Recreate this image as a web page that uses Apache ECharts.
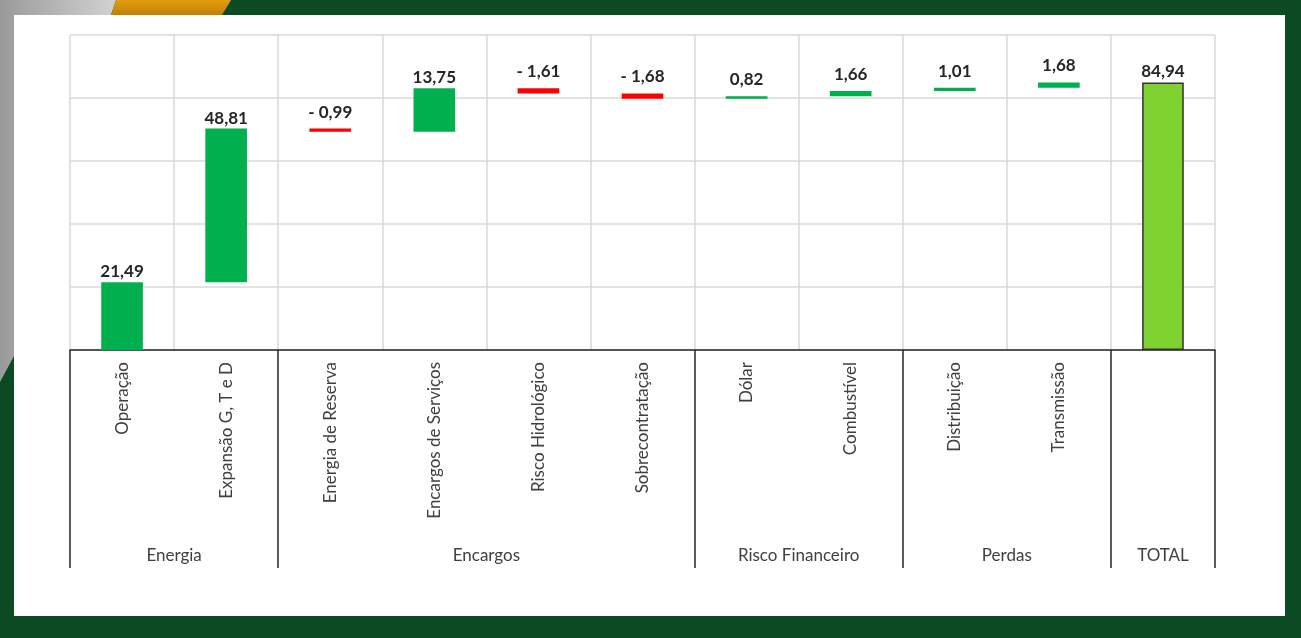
<!DOCTYPE html>
<html>
<head>
<meta charset="utf-8">
<script src="https://cdn.jsdelivr.net/npm/echarts@6/dist/echarts.min.js"></script>
<style>
html,body{margin:0;padding:0;width:1301px;height:638px;overflow:hidden;background:#0b4a22;}
#frame{position:absolute;left:0;top:0;}
#chart{position:absolute;left:0;top:0;width:1301px;height:638px;}
</style>
</head>
<body>
<svg id="frame" width="1301" height="638" xmlns="http://www.w3.org/2000/svg">
  <defs>
    <linearGradient id="og" x1="0" y1="0" x2="0" y2="1">
      <stop offset="0" stop-color="#e39e0c"/>
      <stop offset="1" stop-color="#bf7f08"/>
    </linearGradient>
    <linearGradient id="gg" x1="0" y1="0" x2="1" y2="0">
      <stop offset="0" stop-color="#9a9a9a"/>
      <stop offset="1" stop-color="#d2d2d2"/>
    </linearGradient>
  </defs>
  <rect x="0" y="0" width="1301" height="638" fill="#0b4a22"/>
  <polygon points="0,0 116,0 111,15 14,15 14,356 0,382" fill="url(#gg)"/>
  <polygon points="116,0 231,0 222,15 111,15" fill="url(#og)"/>
  <rect x="14" y="15" width="1271" height="601" fill="#ffffff"/>
</svg>
<div id="chart"></div>
<script>
const categories = ['Operação','Expansão G, T e D','Energia de Reserva','Encargos de Serviços','Risco Hidrológico','Sobrecontratação','Dólar','Combustível','Distribuição','Transmissão','TOTAL'];
const deltas = [21.49, 48.81, -0.99, 13.75, -1.61, -1.68, 0.82, 1.66, 1.01, 1.68];
const totalValue = 84.94;
const groups = ['Energia','Encargos','Risco Financeiro','Perdas','TOTAL'];
const groupStart = [0, 2, 6, 8, 10];
const groupEnd = [1, 5, 7, 9, 10];
const yMin = 0, yMax = 100, yStep = 20;

const COLOR_UP = '#00b04f', COLOR_DOWN = '#ff0000', COLOR_TOTAL = '#7ed12f';

function labelDist(h) { return h < 3 ? 8 : 2; }

const baseData = [], barData = [], labelValues = [];
let cum = 0;
deltas.forEach(function (d) {
  const h = Math.abs(d);
  baseData.push(d >= 0 ? cum : cum + d);
  barData.push({value: h, itemStyle: {color: d >= 0 ? COLOR_UP : COLOR_DOWN}, label: {distance: labelDist(h)}});
  labelValues.push(d);
  cum += d;
});
baseData.push(0);
barData.push({value: totalValue, itemStyle: {color: COLOR_TOTAL, borderColor: '#333333', borderWidth: 1.5}, label: {distance: labelDist(totalValue)}});
labelValues.push(totalValue);

function fmt(v) {
  return (v < 0 ? '- ' : '') + Math.abs(v).toFixed(2).replace('.', ',');
}

const chart = echarts.init(document.getElementById('chart'), null, {renderer: 'canvas'});
const FONT = 'Lato';
chart.setOption({
  animation: false,
  backgroundColor: 'transparent',
  grid: {left: 70, right: 86, top: 35, bottom: 288, containLabel: false},
  xAxis: {
    type: 'category',
    data: categories,
    boundaryGap: true,
    axisLine: {show: true, lineStyle: {color: '#262626', width: 1.5}},
    axisTick: {
      show: true,
      length: 218,
      interval: function (i) { return groupStart.indexOf(i) >= 0; },
      lineStyle: {color: '#262626', width: 1.5}
    },
    axisLabel: {interval: 0, rotate: 90, margin: 12, fontSize: 17, color: '#404040', fontFamily: FONT,
      formatter: function (v, i) { return i === categories.length - 1 ? '' : v; }},
    splitLine: {show: true, interval: 0, lineStyle: {color: '#d9d9d9', width: 1.5}}
  },
  yAxis: {
    type: 'value', min: yMin, max: yMax, interval: yStep,
    axisLabel: {show: false}, axisLine: {show: false}, axisTick: {show: false},
    splitLine: {show: true, lineStyle: {color: '#d9d9d9', width: 1.5}}
  },
  series: [
    {type: 'bar', stack: 'w', data: baseData, barWidth: '40%', itemStyle: {color: 'transparent'}, silent: true},
    {type: 'bar', stack: 'w', data: barData, barWidth: '40%',
     label: {show: true, position: 'top', distance: 2, fontSize: 17, fontWeight: 'bold', color: '#262626', fontFamily: FONT,
       formatter: function (p) { return fmt(labelValues[p.dataIndex]); }}}
  ]
});

const graphics = groups.map(function (name, k) {
  const x0 = chart.convertToPixel({xAxisIndex: 0}, categories[groupStart[k]]);
  const x1 = chart.convertToPixel({xAxisIndex: 0}, categories[groupEnd[k]]);
  const yBase = chart.convertToPixel({yAxisIndex: 0}, yMin);
  return {type: 'text', x: (x0 + x1) / 2, y: yBase + 206,
    style: {text: name, align: 'center', verticalAlign: 'middle', fontSize: 17, fill: '#404040', fontFamily: FONT}};
});
chart.setOption({graphic: graphics});
</script>
</body>
</html>
